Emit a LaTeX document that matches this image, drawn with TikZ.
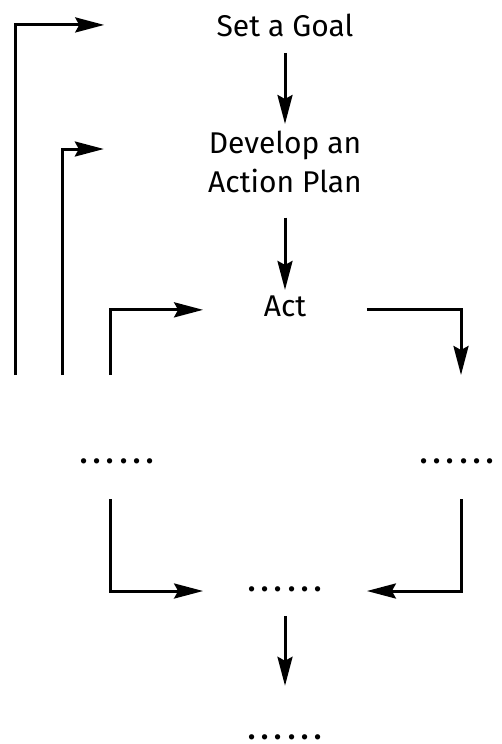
\documentclass[tikz,border=0pt]{standalone}
\usepackage{fontspec}
\setmainfont{Fira Sans}
\newfontfamily\dotsfont[LetterSpace=11]{Fira Sans}
\usepackage{tikz}
\usetikzlibrary{arrows.meta}

\begin{document}
\begin{tikzpicture}[x=0.5pt,y=-0.5pt,
	steptext/.style={font=\fontsize{15}{19.5}\selectfont,inner sep=0pt,align=center},
	dotstext/.style={font=\dotsfont\fontsize{19}{22}\selectfont,inner sep=0pt},
	wide/.style={minimum width=81.5pt},
	flow/.style={line width=1.5pt,-{Stealth[length=14.5pt,width=7.5pt,inset=2pt]}},
	feed/.style={line width=1.5pt}]
	\useasboundingbox (0,0) rectangle (502,744);
	\node[steptext,anchor=base](goal) at (285,36){Set a Goal};
	\node[steptext,anchor=north](plan) at (285,131){Develop an\\Action Plan};
	\node[steptext,wide,anchor=base](act) at (285,316){Act};
	\node[dotstext,anchor=base](lft) at (117,463){......};
	\node[dotstext,anchor=base](rgt) at (457,463){......};
	\node[dotstext,wide,anchor=base](mid) at (285,591){......};
	\node[dotstext,anchor=base](out) at (285,739){......};
	\coordinate(fa) at (15,375);
	\coordinate(fb) at (62,375);
	\coordinate(fc) at (110,375);
	\coordinate(fd) at (461,375);
	\coordinate(fe) at (110,499);
	\coordinate(ff) at (461,499);
	\draw[flow,shorten <=8pt,shorten >=3.5pt](goal) -- (plan);
	\draw[flow,shorten <=12pt,shorten >=2.5pt](plan) -- (act);
	\draw[flow,shorten <=12pt,shorten >=24pt](mid) -- (out);
	\draw[flow,shorten >=56pt](fa) |- (goal.west);
	\draw[flow,shorten >=52pt](fb) |- ([yshift=-9pt]plan.north west);
	\draw[flow](fc) |- ([yshift=-2pt]act.west);
	\draw[flow](act.east) ++(0,4) -| (fd);
	\draw[flow](fe) |- (mid.base west);
	\draw[flow](ff) |- (mid.base east);
\end{tikzpicture}
\end{document}
